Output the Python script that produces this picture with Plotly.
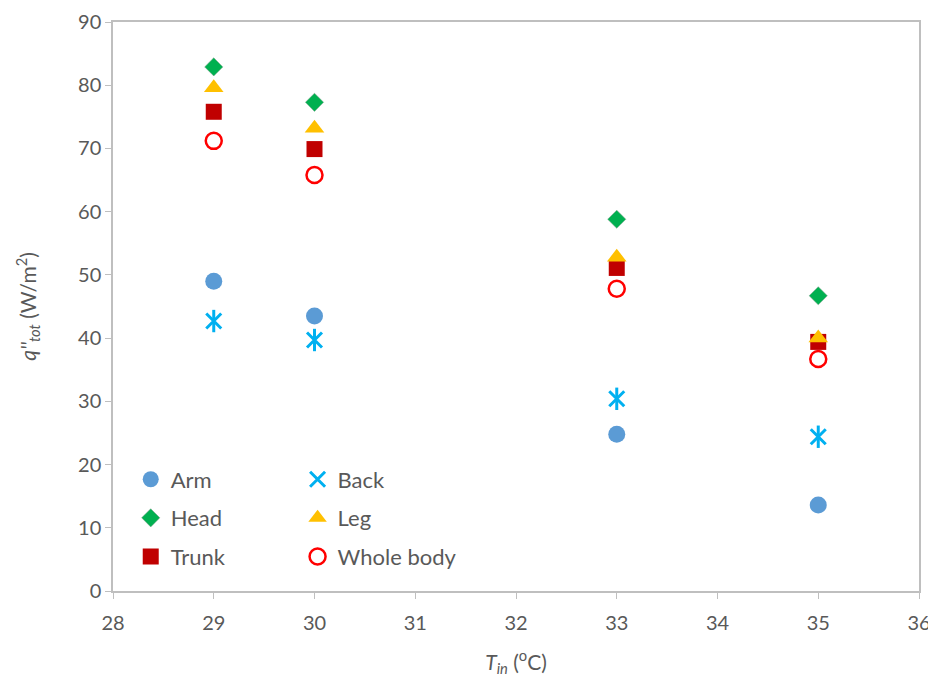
import plotly.graph_objects as go

T_in = [29, 30, 33, 35]
arm = [49.0, 43.5, 24.8, 13.6]
back = [42.7, 39.7, 30.4, 24.4]
head = [82.9, 77.3, 58.8, 46.7]
leg = [79.6, 73.2, 52.8, 40.0]
trunk = [75.8, 69.9, 51.1, 39.4]
whole = [71.2, 65.8, 47.8, 36.7]

x_ticks = [28, 29, 30, 31, 32, 33, 34, 35, 36]
y_ticks = [0, 10, 20, 30, 40, 50, 60, 70, 80, 90]

FONT = "Lato, 'Open Sans', sans-serif"
GREY = "#595959"

fig = go.Figure()

def add(name, y, symbol, color, size, legend, group, line=None, show=True):
    marker = dict(symbol=symbol, size=size, color=color)
    if line:
        marker["line"] = line
    fig.add_trace(go.Scatter(x=T_in, y=y, mode="markers", name=name, marker=marker,
                             legend=legend, legendgroup=group, showlegend=show))

add("Arm", arm, "circle", "#5B9BD5", 17, "legend", "a")
add("Head", head, "diamond", "#00B050", 14, "legend", "h", line=dict(color="#7f9f8a", width=0.5))
add("Trunk", trunk, "square", "#C00000", 16, "legend", "t")
add("Back", back, "x-thin-open", "#00B0F0", 15, "legend2", "b", line=dict(color="#00B0F0", width=3))
fig.add_trace(go.Scatter(x=T_in, y=back, mode="markers", name="Back", showlegend=False,
                         legend="legend2", legendgroup="b",
                         marker=dict(symbol="line-ns-open", size=16, color="#00B0F0",
                                     line=dict(color="#00B0F0", width=3))))
add("Leg", leg, "triangle-up", "#FFC000", 17, "legend2", "l")
add("Whole body", whole, "circle-open", "#FF0000", 16, "legend2", "w", line=dict(color="#FF0000", width=2.5))

legend_common = dict(font=dict(family=FONT, size=22, color=GREY), bgcolor="rgba(0,0,0,0)",
                     tracegroupgap=7, itemsizing="trace", xanchor="left", yanchor="top")

fig.update_layout(
    width=928, height=669,
    margin=dict(l=105, r=17, t=14, b=86),
    plot_bgcolor="white", paper_bgcolor="white",
    font=dict(family=FONT, size=19, color=GREY),
    legend=dict(x=0.022, y=0.233, **legend_common),
    legend2=dict(x=0.229, y=0.233, **legend_common),
    xaxis=dict(range=[28, 36], tickvals=x_ticks, ticktext=[str(v) for v in x_ticks],
               showgrid=False, zeroline=False, showline=True, linecolor="#BFBFBF",
               linewidth=1.5, mirror=True, ticks="outside", ticklen=6, tickcolor="#BFBFBF",
               tickfont=dict(size=20, color=GREY), automargin=False, ticklabelstandoff=7,
               title=dict(text="<i>T</i><sub><i>in</i></sub> (<sup>o</sup>C)",
                          font=dict(size=21, color=GREY), standoff=27)),
    yaxis=dict(range=[0, 90], tickvals=y_ticks, ticktext=[str(v) for v in y_ticks],
               showgrid=False, zeroline=False, showline=True, linecolor="#BFBFBF",
               linewidth=1.5, mirror=True, ticks="outside", ticklen=6, tickcolor="#BFBFBF",
               tickfont=dict(size=20, color=GREY), automargin=False,
               title=dict(text="<i>q''</i><sub><i>tot</i></sub> (W/m<sup>2</sup>)",
                          font=dict(size=21, color=GREY), standoff=36)),
)

fig.write_html("out.html")
